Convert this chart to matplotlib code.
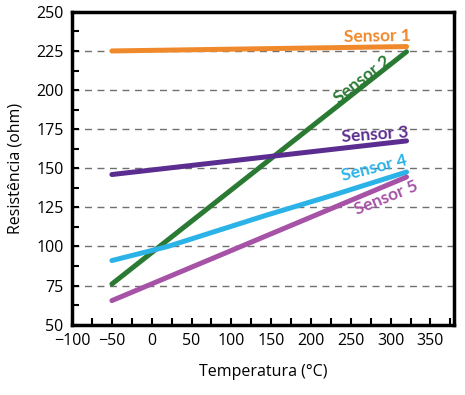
import matplotlib
matplotlib.use('Agg')
from matplotlib import pyplot as plt
from matplotlib.ticker import MultipleLocator

plt.rcParams['font.family'] = ['Open Sans', 'DejaVu Sans']

# readings
temp = [-50, 320]
sensor1 = [225, 227.8]
sensor2 = [76, 224.5]
sensor3 = [146, 167.5]
temp4 = [-50, 20, 144, 227, 320]
sensor4 = [91, 100, 120, 132.7, 147.6]
sensor5 = [65.4, 144.4]

names = ['Sensor 1', 'Sensor 2', 'Sensor 3', 'Sensor 4', 'Sensor 5']
colors = ['#f0892b', '#2a7a34', '#5b2d90', '#2bb3e8', '#a652a6']

fig = plt.figure(figsize=(4.65, 3.95), dpi=100)
ax = fig.add_axes([0.155, 0.178, 0.822, 0.792])

ax.plot(temp, sensor1, color=colors[0], lw=3.6, solid_capstyle='round')
ax.plot(temp, sensor2, color=colors[1], lw=3.6, solid_capstyle='round')
ax.plot(temp, sensor3, color=colors[2], lw=3.6, solid_capstyle='round')
ax.plot(temp4, sensor4, color=colors[3], lw=3.6, solid_capstyle='round')
ax.plot(temp, sensor5, color=colors[4], lw=3.6, solid_capstyle='round')

# labels along the lines
lab = dict(family=['Lato', 'DejaVu Sans'], fontsize=12.5, fontweight='bold',
           ha='center', va='center')
ax.text(283, 234.5, names[0], color=colors[0], rotation=1, **lab)
ax.text(265, 207, names[1], color=colors[1], rotation=38, **lab)
ax.text(281, 171.5, names[2], color=colors[2], rotation=4, **lab)
ax.text(280, 150, names[3], color=colors[3], rotation=14, **lab)
ax.text(294, 131, names[4], color=colors[4], rotation=22, **lab)

ax.set_xlim(-100, 380)
ax.set_ylim(50, 250)
ax.xaxis.set_major_locator(MultipleLocator(50))
ax.xaxis.set_minor_locator(MultipleLocator(25))
ax.yaxis.set_major_locator(MultipleLocator(25))
ax.yaxis.set_minor_locator(MultipleLocator(12.5))
ax.tick_params(which='both', direction='in', length=5, width=1.5, labelsize=11.5)
ax.tick_params(axis='x', pad=6)
ax.tick_params(axis='y', pad=6)
ax.set_xticks(range(-100, 351, 50))
ax.set_xticklabels([str(v).replace('-', '\u2212') for v in range(-100, 351, 50)])

for y in range(75, 226, 25):
    ax.axhline(y, color='#707070', lw=1, ls=(0, (5, 4)), zorder=0)

for s in ax.spines.values():
    s.set_linewidth(2.5)

ax.set_xlabel('Temperatura (°C)', fontsize=11.5, labelpad=11)
ax.set_ylabel('Resistência (ohm)', fontsize=11.5, labelpad=9)

fig.savefig('out.png', dpi=100)
